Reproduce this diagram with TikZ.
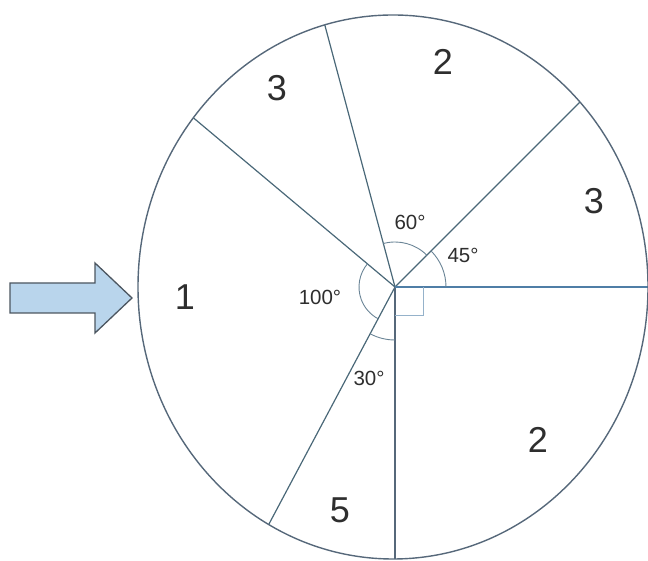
\documentclass[tikz,border=0pt]{standalone}
\usepackage{fontspec}
\setmainfont{Liberation Sans}
\definecolor{rim}{HTML}{56687A}
\definecolor{ray}{HTML}{4A6878}
\definecolor{rayblue}{HTML}{4F7EA6}
\definecolor{arcc}{HTML}{6A8496}
\definecolor{txt}{HTML}{2E2E2E}
\definecolor{arrowfill}{HTML}{B9D5EC}
\definecolor{arrowline}{HTML}{4C5660}
\tikzset{
  raylinestyle/.style={draw=ray, line width=1.2pt},
  anglearc/.style={draw=arcc, line width=0.9pt},
  bignum/.style={text=txt, font=\fontsize{36}{36}\selectfont, inner sep=0pt},
  anglelabel/.style={text=txt, font=\fontsize{20.5}{20.5}\selectfont, inner sep=0pt},
}
\begin{document}
\begin{tikzpicture}[x=1pt,y=1pt]
\useasboundingbox (0,0) rectangle (648,561);
\coordinate (C) at (395,274);
% rays clipped by the ellipse
\begin{scope}
  \clip (393,274) ellipse [x radius=255, y radius=272];
  \draw[raylinestyle] (C) -- ++(45:400);
  \draw[raylinestyle] (C) -- ++(105:400);
  \draw[raylinestyle] (C) -- ++(140:400);
  \draw[raylinestyle] (C) -- ++(242:400);
  \draw[raylinestyle, draw=rim] (C) -- ++(270:400);
\end{scope}
\draw[draw=rayblue, line width=1.3pt] (C) -- ++(0:253);
% rim
\draw[draw=rim, line width=1.4pt] (393,274) ellipse [x radius=255, y radius=272];
% angle marks
\draw[anglearc] ([shift=(0:51)]C) arc[start angle=0, end angle=45, radius=51];
\draw[anglearc] ([shift=(45:45)]C) arc[start angle=45, end angle=105, radius=45];
\draw[anglearc] ([shift=(140:36)]C) arc[start angle=140, end angle=242, radius=36];
\draw[anglearc] ([shift=(242:53)]C) arc[start angle=242, end angle=270, radius=53];
\draw[anglearc, draw=rayblue!60] (C) ++(0,-28) -| ++(28,28);
% labels
\node[bignum] (n3a) at (277,473) {3};
\node[bignum] (n2a) at (443,499) {2};
\node[bignum] (n3b) at (594,360) {3};
\node[bignum] (n1) at (185,264) {1};
\node[bignum] (n2b) at (538,121) {2};
\node[bignum] (n5) at (340,51) {5};
\node[anglelabel] (a60) at (410,339) {60°};
\node[anglelabel] (a45) at (463,306) {45°};
\node[anglelabel] (a100) at (320,264) {100°};
\node[anglelabel] (a30) at (369,183) {30°};
% arrow
\draw[fill=arrowfill, draw=arrowline, line width=1.3pt, line join=miter]
  (10,278) -- (95,278) -- (95,298) -- (132,263) -- (95,228) -- (95,248) -- (10,248) -- cycle;
\end{tikzpicture}
\end{document}
